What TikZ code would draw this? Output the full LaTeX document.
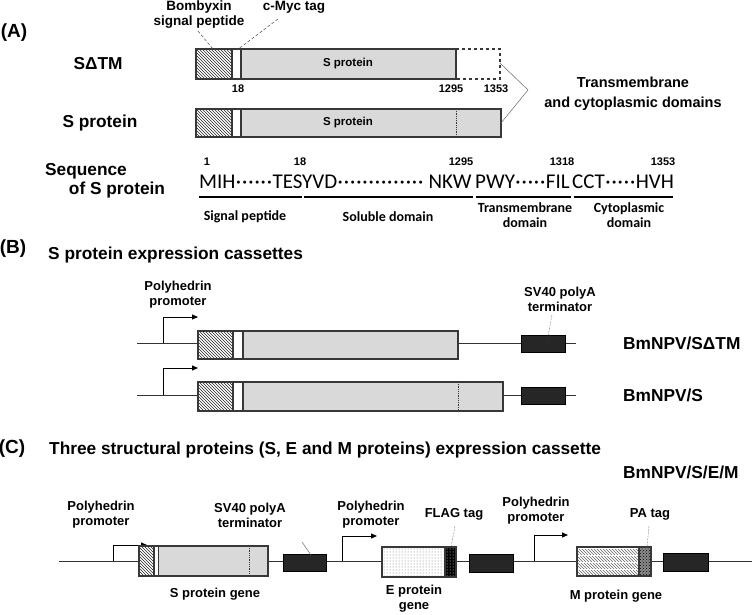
\documentclass[tikz,border=0pt]{standalone}
\usepackage{fontspec}
\setmainfont{Liberation Sans}
\newfontfamily\calib{Carlito}
\usetikzlibrary{patterns,arrows.meta}
\definecolor{barfill}{gray}{0.85}
\definecolor{boxblack}{gray}{0.15}
\definecolor{edge}{gray}{0.22}
\newcommand{\sqdot}{\makebox[6.2pt]{·}}
\begin{document}
\begin{tikzpicture}[x=1pt,y=-1pt,
 lab/.style={font={\fontsize{13}{15}\selectfont\bfseries}, inner sep=0pt, align=center},
 big/.style={font={\fontsize{17.3}{19}\selectfont\bfseries}, inner sep=0pt},
 panel/.style={font={\fontsize{19}{21}\selectfont\bfseries}, inner sep=0pt},
 num/.style={font={\fontsize{11}{12}\selectfont\bfseries}, inner sep=0pt},
 inbar/.style={font={\fontsize{11.5}{13}\selectfont\bfseries}, inner sep=0pt},
 seqtxt/.style={font={\calib\fontsize{21}{23}\selectfont}, inner sep=0pt},
 seqlab/.style={font={\calib\bfseries\fontsize{14}{15}\selectfont}, inner sep=0pt, align=center},
 bar/.style={draw=edge, line width=1.2pt},
 grey/.style={bar, fill=barfill},
 hatch/.style={bar, preaction={fill=white}, pattern=north west lines, pattern color=black!85},
 term/.style={draw=black, line width=0.8pt, fill=boxblack},
 dna/.style={draw=black!80, line width=0.9pt},
 prom/.style={draw=black, line width=0.9pt, -{Triangle[length=6pt,width=5pt]}},
 lead/.style={draw=black!70, line width=0.5pt, densely dashed},
 lead2/.style={draw=black!70, line width=0.5pt, densely dotted},
 cut/.style={draw=edge, line width=0.8pt, densely dotted},
]
\useasboundingbox (0,0) rectangle (752,615);

% ---------------- (A)
\node[panel] (tA) at (14,33) {(A)};
\node[big] (lSdTM) at (98,64) {SΔTM};
\node[big] (lS) at (100,123) {S protein};

% bar 1
\draw[hatch] (196,49) rectangle (232,79);
\draw[bar, fill=white] (232,49) rectangle (241,79);
\draw[grey] (241,49) rectangle (456,79);
\draw[bar, dashed] (456,49) -- (500,49) -- (500,79) -- (456,79);
\node[inbar] (sp1) at (348,64) {S protein};
% bar 2
\draw[hatch] (196,109) rectangle (232,137);
\draw[bar, fill=white] (232,109) rectangle (241,137);
\draw[grey] (241,109) rectangle (501,137);
\draw[cut] (456,109) -- (456,137);
\node[inbar] (sp2) at (348,123) {S protein};

\node[num] (n18a) at (238,89) {18};
\node[num] (n1295a) at (451,89) {1295};
\node[num] (n1353a) at (496,89) {1353};

\node[lab, font={\fontsize{13.5}{15}\selectfont\bfseries}] (bomb) at (199,15) {Bombyxin\\signal peptide};
\node[lab, font={\fontsize{13.5}{15}\selectfont\bfseries}] (cmyc) at (294,7) {c-Myc tag};
\coordinate (bombend) at (213,49);
\coordinate (cmycend) at (237,50);
\draw[lead] (198,31) -- (bombend);
\draw[lead] (278,19) -- (cmycend);

\coordinate (brA) at (500,63);
\coordinate (brB) at (528,90);
\coordinate (brC) at (501,123);
\draw[draw=black!60, line width=0.5pt] (brA) -- (brB) -- (brC);
\node[lab, font={\fontsize{14.5}{20}\selectfont\bfseries}] (tmcd) at (633,94) {Transmembrane\\and cytoplasmic domains};

% sequence
\node[big] (seqA) at (86,171) {Sequence};
\node[big] (seqB) at (117,190) {of S protein};
\node[seqtxt, anchor=base west] (s1) at (199,188) {MIH\sqdot\sqdot\sqdot\sqdot\sqdot\sqdot TES};
\node[seqtxt, anchor=base west] (s2) at (302,188) {YVD\sqdot\sqdot\sqdot\sqdot\sqdot\sqdot\sqdot\sqdot\sqdot\sqdot\sqdot\sqdot\sqdot\sqdot\ NKW};
\node[seqtxt, anchor=base west] (s3) at (475,188) {PWY\sqdot\sqdot\sqdot\sqdot\sqdot FIL};
\node[seqtxt, anchor=base west] (s4) at (572,188) {CCT\sqdot\sqdot\sqdot\sqdot\sqdot HVH};
\node[num] (q1) at (207,162) {1};
\node[num] (q18) at (300,162) {18};
\node[num] (q1295) at (461,162) {1295};
\node[num] (q1318) at (562,162) {1318};
\node[num] (q1353) at (663,162) {1353};
\draw[line width=1.8pt] (199,197) -- (302,197);
\draw[line width=1.8pt] (304,197) -- (473,197);
\draw[line width=1.8pt] (476,197) -- (571,197);
\draw[line width=1.8pt] (574,197) -- (673,197);
\node[seqlab] (l1) at (245,217) {Signal peptide};
\node[seqlab] (l2) at (388,217) {Soluble domain};
\node[seqlab] (l3) at (525,215) {Transmembrane\\domain};
\node[seqlab] (l4) at (629,215) {Cytoplasmic\\domain};

% ---------------- (B)
\node[panel] (tB) at (13,249) {(B)};
\node[big, anchor=west] (titB) at (48,255) {S protein expression cassettes};
\node[lab] (polyB) at (178,295) {Polyhedrin\\promoter};

% row 1
\coordinate (b1s) at (137,343);
\coordinate (b1p) at (163,343);
\coordinate (b1a) at (198,317);
\draw[dna] (b1s) -- (198,343);
\draw[prom] (b1p) |- (b1a);
\draw[hatch] (198,331) rectangle (233,359);
\draw[bar, fill=white] (233,331) rectangle (243,359);
\draw[grey] (243,331) rectangle (458,359);
\draw[dna] (458,343) -- (521,343);
\draw[dna] (565,343) -- (576,343);
\node[term, minimum width=44pt, minimum height=17pt, inner sep=0pt] (tb1) at (543,343.5) {};
\node[lab] (svB) at (560,299) {SV40 polyA\\terminator};
\draw[lead2] (552,315) -- (547,342);
\node[big, anchor=west] (bm1) at (623,343) {BmNPV/SΔTM};

% row 2
\coordinate (b2s) at (137,395);
\coordinate (b2p) at (163,395);
\coordinate (b2a) at (198,368);
\draw[dna] (b2s) -- (198,395);
\draw[prom] (b2p) |- (b2a);
\draw[hatch] (198,382) rectangle (233,411);
\draw[bar, fill=white] (233,382) rectangle (243,411);
\draw[grey] (243,382) rectangle (503,411);
\draw[cut] (458,382) -- (458,411);
\draw[dna] (503,395) -- (521,395);
\draw[dna] (565,395) -- (576,395);
\node[term, minimum width=44pt, minimum height=17pt, inner sep=0pt] (tb2) at (543,395.5) {};
\node[big, anchor=west] (bm2) at (623,395) {BmNPV/S};

% ---------------- (C)
\node[panel] (tC) at (12,449) {(C)};
\node[big, anchor=west] (titC) at (49,450) {Three structural proteins (S, E and M proteins) expression cassette};
\node[big, anchor=west] (bm3) at (623,472) {BmNPV/S/E/M};

\coordinate (cs) at (59,561);
\coordinate (ce) at (752,561);
\draw[dna] (cs) -- (ce);

% promoter 1 + S gene
\draw[prom] (113,561) |- (147,545);
\node[lab] (polyC1) at (101,515) {Polyhedrin\\promoter};
\draw[hatch] (139,546) rectangle (154,576);
\draw[bar, fill=white] (154,546) rectangle (158.5,576);
\draw[grey] (158.5,546) rectangle (268,576);
\draw[cut] (249,546) -- (249,576);
\node[lab] (sgene) at (215,594) {S protein gene};
\node[term, minimum width=43pt, minimum height=17pt, inner sep=0pt] (tc1) at (304.5,562.5) {};
\node[lab] (svC) at (250,515) {SV40 polyA\\terminator};
\draw[draw=black!60, line width=0.5pt] (302,542) -- (311,555);

% promoter 2 + E gene
\draw[prom] (342,561) |- (377,536);
\node[lab] (polyC2) at (371,515) {Polyhedrin\\promoter};
\draw[bar, preaction={fill=white}, pattern=dots, pattern color=black!55] (382,547) rectangle (445,577);
\draw[bar, preaction={fill=black}, pattern=dots, pattern color=white] (445,547) rectangle (456,577);
\node[lab] (egene) at (414,599) {E protein\\gene};
\node[lab] (flag) at (454,514) {FLAG tag};
\draw[lead2] (455,526) -- (451,547);
\node[term, minimum width=44pt, minimum height=18pt, inner sep=0pt] (tc2) at (491,563) {};

% promoter 3 + M gene
\draw[prom] (534,561) |- (568,535);
\node[lab] (polyC3) at (536,511) {Polyhedrin\\promoter};
\fill[white] (577,547) rectangle (639,576);
\foreach \yy in {549,556,563,570}
  \fill[pattern=north west lines, pattern color=black!60] (577,\yy) rectangle (639,\yy+5);
\draw[bar] (577,547) rectangle (639,576);
\draw[bar, preaction={fill=black!45}, pattern=crosshatch dots, pattern color=black] (639,547) rectangle (651,576);
\node[lab] (mgene) at (616,596) {M protein gene};
\node[lab] (patag) at (650,514) {PA tag};
\draw[lead2] (649,526) -- (647,547);
\node[term, minimum width=45pt, minimum height=18pt, inner sep=0pt] (tc3) at (685.5,562) {};
\end{tikzpicture}
\end{document}
